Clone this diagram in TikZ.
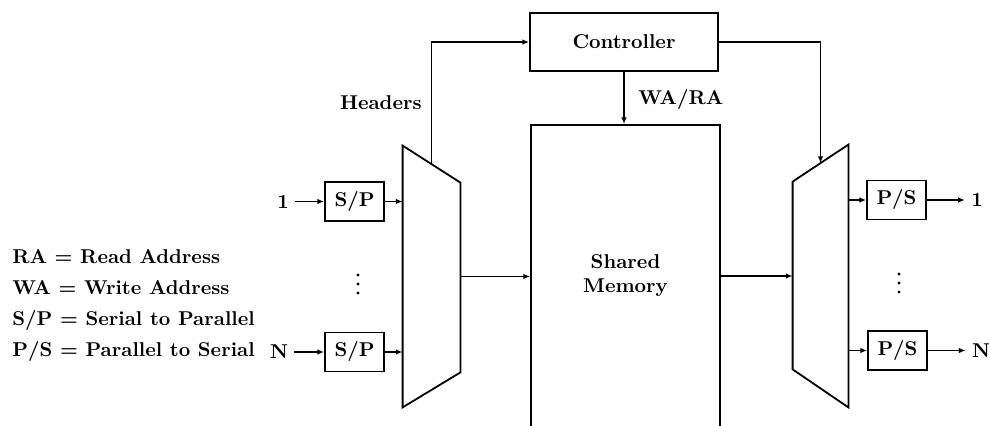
\documentclass[tikz,border=0pt]{standalone}
\usepackage{tikz}
\usetikzlibrary{positioning,arrows.meta,calc}

\begin{document}
\begin{tikzpicture}[
  x=0.5pt, y=-0.5pt,
  font=\bfseries,
  blk/.style={draw, line width=0.9pt, inner sep=0pt, align=center},
  conv/.style={blk, minimum width=29.5pt, minimum height=19.5pt},
  mux/.style={inner sep=0pt},
  muxline/.style={line width=0.9pt, line join=miter},
  ar/.style={-{Latex[length=3.4pt,width=2.8pt]}, line width=0.9pt},
  lbl/.style={inner sep=3pt},
  dot/.style={fill, radius=0.8pt},
]
\useasboundingbox (0,0) rectangle (989,426);
\clip (0,0) rectangle (989,426);

% controller and memory
\node[blk, minimum width=94pt, minimum height=29pt] (ctrl) at (624,42) {Controller};
\node[blk, minimum width=94.5pt, minimum height=151pt] (mem) at (625.5,276) {Shared\\Memory};

% the two switches
\node[mux, minimum width=28.5pt, minimum height=130.5pt] (lmux) at (431.5,276.5) {};
\node[mux, minimum width=27.5pt, minimum height=131pt] (rmux) at (820.5,276) {};
\draw[muxline] (lmux.north west) -- ($(lmux.north east)+(0pt,-18.5pt)$)
  -- ($(lmux.south east)+(0pt,17.5pt)$) -- (lmux.south west) -- cycle;
\draw[muxline] (rmux.north east) -- (rmux.south east)
  -- ($(rmux.south west)+(0pt,19pt)$) -- ($(rmux.north west)+(0pt,-18.5pt)$) -- cycle;
\coordinate (lhd) at ($(lmux.north)+(0pt,-9pt)$);
\coordinate (rhd) at ($(rmux.north)+(0pt,-9.25pt)$);

% inputs
\node[lbl] (in1) at (283,201.5) {1};
\node[lbl] (inN) at (279,352) {N};
\node[conv] (sp1) at (354.5,201.5) {S/P};
\node[conv] (spN) at (354.5,352) {S/P};
\coordinate (ldots) at (358,284);
\fill[dot] (ldots) ++(0,-9) circle[] (ldots) circle[] (ldots) ++(0,9) circle[];

% outputs
\node[conv] (ps1) at (896.5,200) {P/S};
\node[conv] (psN) at (897.5,350.5) {P/S};
\node[lbl] (out1) at (977,200) {1};
\node[lbl] (outN) at (981,350.5) {N};
\coordinate (rdots) at (899,283);
\fill[dot] (rdots) ++(0,-9) circle[] (rdots) circle[] (rdots) ++(0,9) circle[];

\draw[ar] (in1) -- (sp1);
\draw[ar] (inN) -- (spN);
\draw[ar] (sp1) -- (sp1 -| lmux.west);
\draw[ar] (spN) -- (spN -| lmux.west);
\draw[ar] (lmux.east) -- (lmux.east -| mem.west);
\draw[ar] (mem.east) -- (mem.east -| rmux.west);
\draw[ar] (ps1 -| rmux.east) -- (ps1);
\draw[ar] (psN -| rmux.east) -- (psN);
\draw[ar] (ps1) -- (out1);
\draw[ar] (psN) -- (outN);

% control paths
\draw[ar] (lhd) |- (ctrl.west);
\draw[ar] (ctrl.east) -| (rhd);
\draw[ar] (ctrl.south) -- (ctrl.south |- mem.north);
\node[lbl, anchor=east] (hdr) at (428,103) {Headers};
\node[lbl, anchor=west] (wara) at (632,100) {WA/RA};

% key
\node[anchor=west, align=left, inner sep=0pt] (key) at (12,305.5)
  {RA = Read Address\\[3.5pt] WA = Write Address\\[3.5pt]
   S/P = Serial to Parallel\\[3.5pt] P/S = Parallel to Serial};

\end{tikzpicture}
\end{document}
